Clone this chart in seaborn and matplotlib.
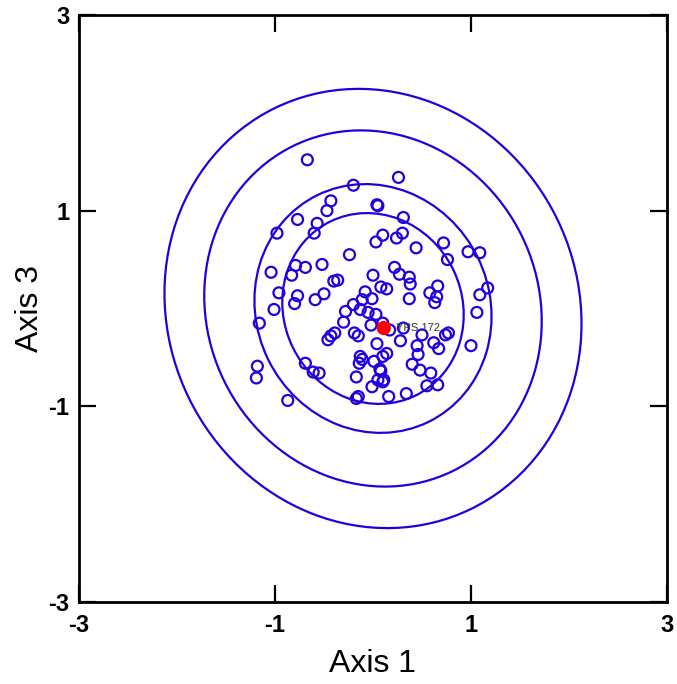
import numpy as np
import pandas as pd
import matplotlib
matplotlib.use("Agg")
import matplotlib.pyplot as plt
from matplotlib.patches import Ellipse
import seaborn as sns

# sample scores on axis 1 / axis 3
axis1 = [-0.67, 0.26, -0.20, -0.43, -0.47, 0.04, 0.05, -0.77, -0.57, -0.60,
         -0.98, 0.31, 0.10, 0.03, 0.24, 0.30, 0.44, 0.72, 0.97, 1.09,
         0.76, -0.24, -1.04, -0.79, -0.69, -0.83, -0.52, 0.00, 0.22, 0.27,
         0.37, 0.38, -0.40, -0.36, 0.08, 0.14, 0.66, 0.58, 0.65, 0.63,
         1.17, 1.09, -0.96, -0.77, -0.80, -1.01, -0.59, -0.50, -0.08, -0.01,
         -0.11, -0.20, -0.13, -0.28, 0.37, 1.06, -0.05, 0.03, -0.30, -0.02,
         0.10, -1.16, -0.19, -0.15, -0.39, -0.43, -0.46, 0.17, 0.31, 0.50,
         0.77, 0.74, 0.28, 0.45, 0.62, 0.67, 1.00, 0.04, 0.46, 0.14,
         0.10, -0.13, -0.11, -0.14, 0.01, -0.69, -1.18, -1.19, 0.40, 0.48,
         0.59, 0.07, 0.08, -0.61, -0.55, -0.17, 0.05, 0.10, 0.11, -0.01,
         0.55, 0.66, 0.34, 0.16, -0.15, -0.17, -0.87]
axis3 = [1.52, 1.34, 1.26, 1.10, 1.00, 1.06, 1.05, 0.91, 0.87, 0.77,
         0.77, 0.93, 0.75, 0.68, 0.72, 0.77, 0.62, 0.67, 0.58, 0.57,
         0.50, 0.55, 0.37, 0.44, 0.42, 0.34, 0.45, 0.34, 0.42, 0.35,
         0.32, 0.25, 0.28, 0.29, 0.22, 0.20, 0.23, 0.16, 0.12, 0.06,
         0.21, 0.14, 0.16, 0.13, 0.05, -0.01, 0.09, 0.15, 0.17, 0.10,
         0.09, 0.04, -0.01, -0.03, 0.10, -0.04, -0.04, -0.06, -0.14, -0.17,
         -0.15, -0.15, -0.25, -0.28, -0.25, -0.28, -0.32, -0.22, -0.20, -0.27,
         -0.25, -0.27, -0.33, -0.38, -0.35, -0.41, -0.38, -0.36, -0.47, -0.46,
         -0.49, -0.49, -0.52, -0.56, -0.54, -0.56, -0.59, -0.71, -0.57, -0.63,
         -0.66, -0.62, -0.64, -0.65, -0.66, -0.70, -0.73, -0.75, -0.73, -0.80,
         -0.79, -0.78, -0.87, -0.90, -0.90, -0.92, -0.94]

# highlighted sample
focus_name = "YPS 172"
focus_x = 0.11
focus_y = -0.20

# contour rings (concentric ellipses)
ring_center = (0.0, 0.0)
ring_major = [2.28, 1.85, 1.29, 0.99]
ring_minor = [2.09, 1.69, 1.19, 0.91]
ring_angle = 116

ticks = [-3, -1, 1, 3]

df = pd.DataFrame({"Axis 1": axis1, "Axis 3": axis3})

blue = "#2200dd"

sns.set_style("white")
plt.rcParams["font.family"] = ["Liberation Sans", "DejaVu Sans"]

fig = plt.figure(figsize=(6.77, 6.84), dpi=100)
ax = fig.add_axes([0.1167, 0.1199, 0.8685, 0.8582])

for a, b in zip(ring_major, ring_minor):
    ax.add_patch(Ellipse(ring_center, 2 * a, 2 * b, angle=ring_angle,
                         fill=False, edgecolor=blue, linewidth=1.6))

sns.scatterplot(data=df, x="Axis 1", y="Axis 3", ax=ax, marker="o", s=62,
                facecolors="none", edgecolor=blue, linewidth=1.6, zorder=3)
ax.scatter([focus_x], [focus_y], s=105, color="red", edgecolors="none", zorder=4)
ax.annotate(focus_name, (focus_x, focus_y), xytext=(9, 0), textcoords="offset points",
            fontsize=8, color="#333333", va="center", ha="left", zorder=5)

ax.set_xlim(-3, 3)
ax.set_ylim(-3, 3)
ax.set_xticks(ticks)
ax.set_yticks(ticks)
ax.set_xticklabels([str(t) for t in ticks], fontweight="bold")
ax.set_yticklabels([str(t) for t in ticks], fontweight="bold")
ax.tick_params(direction="in", length=12, width=1.6, labelsize=17,
               bottom=True, left=True, top=True, right=True,
               colors="black", labelcolor="black")
ax.tick_params(axis="x", pad=9)
ax.tick_params(axis="y", pad=7)
for sp in ax.spines.values():
    sp.set_color("black")
    sp.set_linewidth(2)

ax.set_xlabel("Axis 1", fontsize=23, labelpad=8, color="black")
ax.set_ylabel("Axis 3", fontsize=23, labelpad=2, color="black")

fig.savefig("out.png", dpi=100)
